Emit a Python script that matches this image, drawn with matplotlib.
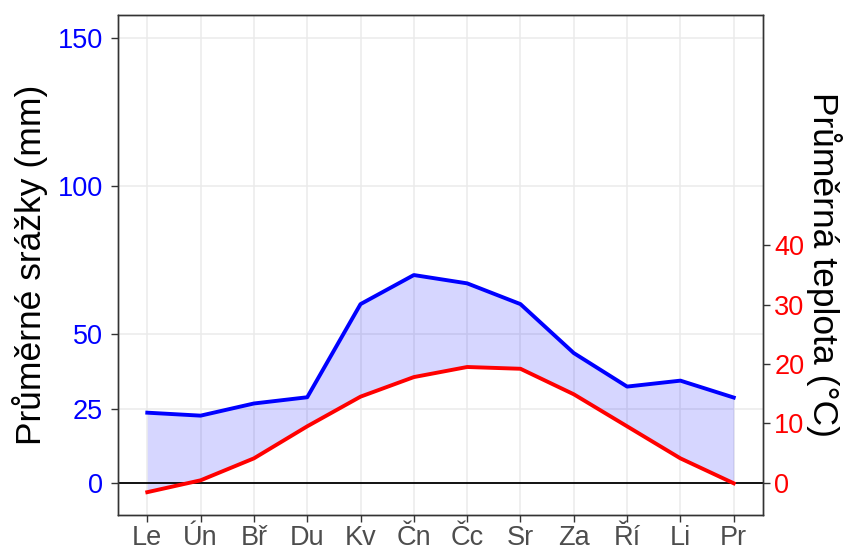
import matplotlib
matplotlib.use("Agg")
import matplotlib.pyplot as plt

plt.rcParams['font.family'] = ['Liberation Sans', 'DejaVu Sans']

# Monthly climate data
months = ["Le", "Ún", "Bř", "Du", "Kv", "Čn", "Čc", "Sr", "Za", "Ří", "Li", "Pr"]
precip = [23.6, 22.6, 26.7, 28.8, 60.2, 70.0, 67.2, 60.2, 43.7, 32.4, 34.4, 28.7]   # mm
temp = [-1.6, 0.4, 4.1, 9.5, 14.5, 17.8, 19.5, 19.2, 14.9, 9.5, 4.1, -0.1]          # °C

precip_ticks = [0, 25, 50, 100, 150]
temp_ticks = [0, 10, 20, 30, 40]
temp_scale = 2  # 10 °C = 20 mm

x = list(range(1, 13))
temp_mm = [t * temp_scale for t in temp]

fig = plt.figure(figsize=(8.45, 5.52), dpi=100)
ax = fig.add_axes([0.1396, 0.067, 0.7634, 0.906])

grid_col = "#ebebeb"
ax.set_axisbelow(True)
ax.grid(True, color=grid_col, linewidth=1.1)

ax.fill_between(x, precip, temp_mm, color="blue", alpha=0.16, linewidth=0)
ax.axhline(0, color="black", linewidth=1.3)
ax.plot(x, precip, color="blue", linewidth=2.8)
ax.plot(x, temp_mm, color="red", linewidth=2.8)

lo, hi = -10.9, 157.7
ax.set_xlim(0.45, 12.55)
ax.set_ylim(lo, hi)
ax.set_xticks(x)
ax.set_xticklabels(months)
ax.set_yticks(precip_ticks)

ax.tick_params(axis="x", colors="#333333", labelcolor="#4d4d4d", labelsize=19.5, length=5, width=1, pad=2)
ax.tick_params(axis="y", colors="#333333", labelcolor="blue", labelsize=19.5, length=5, width=1, pad=6)
ax.set_ylabel("Průměrné srážky (mm)", fontsize=25.5, labelpad=7)

for s in ax.spines.values():
    s.set_color("#333333")
    s.set_linewidth(1.0)

ax2 = ax.twinx()
ax2.set_ylim(lo / temp_scale, hi / temp_scale)
ax2.set_yticks(temp_ticks)
ax2.tick_params(axis="y", colors="#333333", labelcolor="red", labelsize=19.5, length=5, width=1, pad=3)
ax2.set_ylabel("Průměrná teplota (°C)", fontsize=25.5, rotation=270, labelpad=1, va="bottom")
for s in ax2.spines.values():
    s.set_color("#333333")
    s.set_linewidth(1.0)

fig.savefig("out.png", dpi=100)
